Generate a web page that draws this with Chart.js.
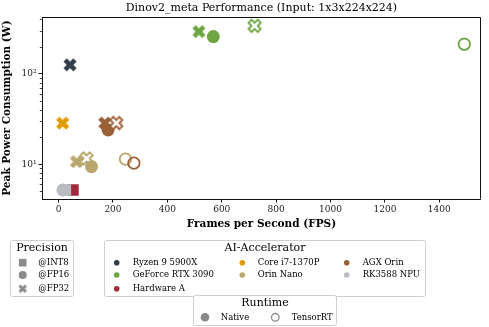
<!DOCTYPE html>
<html>
<head>
<meta charset="utf-8">
<title>Dinov2_meta Performance</title>
<script src="https://cdn.jsdelivr.net/npm/chart.js"></script>
<style>
  html, body { margin: 0; padding: 0; background: #fff; }
  canvas { display: block; }
</style>
</head>
<body>
<canvas id="perfChart" width="489" height="327"></canvas>
<script>
// legend categories
const accelerators = ['Ryzen 9 5900X', 'GeForce RTX 3090', 'Hardware A', 'Core i7-1370P', 'Orin Nano', 'AGX Orin', 'RK3588 NPU'];
const acceleratorColors = ['#323e4a', '#6fa644', '#a2283c', '#de9c00', '#b8a66c', '#9a6137', '#b9bcc1'];
const precisions = ['@INT8', '@FP16', '@FP32'];
const runtimes = ['Native', 'TensorRT'];

// one entry per measurement, drawn in this order (later on top)
const pointDevice = ['Hardware A', 'RK3588 NPU', 'RK3588 NPU', 'Ryzen 9 5900X',
  'GeForce RTX 3090', 'GeForce RTX 3090', 'GeForce RTX 3090', 'GeForce RTX 3090',
  'Core i7-1370P', 'Orin Nano', 'Orin Nano', 'Orin Nano', 'Orin Nano',
  'AGX Orin', 'AGX Orin', 'AGX Orin', 'AGX Orin'];
const pointPrecision = ['@INT8', '@INT8', '@FP16', '@FP32',
  '@FP32', '@FP16', '@FP32', '@FP16',
  '@FP32', '@FP32', '@FP32', '@FP16', '@FP16',
  '@FP32', '@FP16', '@FP32', '@FP16'];
const pointRuntime = ['Native', 'Native', 'Native', 'Native',
  'Native', 'Native', 'TensorRT', 'TensorRT',
  'Native', 'Native', 'TensorRT', 'Native', 'TensorRT',
  'Native', 'Native', 'TensorRT', 'TensorRT'];
const pointFps = [53, 25, 16, 42,
  516, 569, 721, 1492,
  15, 66, 103, 121, 246,
  170, 182, 212, 277];
const pointWatts = [5.2, 5.2, 5.2, 126,
  294, 259, 340, 213,
  28.5, 10.7, 11.6, 9.4, 11.4,
  28.6, 24.0, 28.6, 10.3];

// axes
const xTicks = [0, 200, 400, 600, 800, 1000, 1200, 1400];
const yTicks = [5, 6, 7, 8, 9, 10, 20, 30, 40, 50, 60, 70, 80, 90, 100, 200, 300, 400];
const yMajor = [10, 100];
const yMajorLabels = ['10¹', '10²'];

const SERIF = "'DejaVu Serif', serif";
const LEGEND_GREY = '#8a8a8a';

// matplotlib style filled "X" marker as a small canvas
function crossImage(color, hollow, size) {
  const dim = Math.ceil(size) + 6;
  const c = document.createElement('canvas');
  c.width = dim; c.height = dim;
  const g = c.getContext('2d');
  const pts = [[-1,-3],[1,-3],[1,-1],[3,-1],[3,1],[1,1],[1,3],[-1,3],[-1,1],[-3,1],[-3,-1],[-1,-1]];
  g.translate(dim / 2, dim / 2);
  g.rotate(Math.PI / 4);
  g.beginPath();
  pts.forEach(([px, py], i) => {
    const X = px / 6 * size, Y = py / 6 * size;
    if (i) g.lineTo(X, Y); else g.moveTo(X, Y);
  });
  g.closePath();
  if (hollow) {
    g.fillStyle = '#fff';
    g.fill();
    g.lineWidth = 1.8;
    g.strokeStyle = color;
    g.stroke();
  } else {
    g.fillStyle = color;
    g.fill();
  }
  return c;
}

function colorOf(device) {
  return acceleratorColors[accelerators.indexOf(device)];
}

const pointStyles = [], pointRadii = [], pointBg = [], pointBorder = [], pointBorderW = [];
pointDevice.forEach((dev, i) => {
  const col = colorOf(dev);
  const prec = pointPrecision[i];
  const trt = pointRuntime[i] === 'TensorRT';
  if (prec === '@FP32') {
    pointStyles.push(trt ? crossImage(col, true, 13) : crossImage(col, false, 14));
    pointRadii.push(7); pointBg.push(col); pointBorder.push(col); pointBorderW.push(0);
  } else if (prec === '@FP16') {
    pointStyles.push('circle');
    pointRadii.push(trt ? 5.7 : 6.5);
    pointBg.push(trt ? 'rgba(0,0,0,0)' : col);
    pointBorder.push(col);
    pointBorderW.push(trt ? 1.8 : 0);
  } else {
    pointStyles.push('rect');
    pointRadii.push(8.1); pointBg.push(col); pointBorder.push(col); pointBorderW.push(0);
  }
});

const points = pointFps.map((x, i) => ({ x: x, y: pointWatts[i] }));

// frame, minor ticks and the three legend boxes
const decorPlugin = {
  id: 'decor',
  afterDraw(chart) {
    const ctx = chart.ctx;
    const area = chart.chartArea;
    const yScale = chart.scales.y;
    ctx.save();

    // top + right spines
    const l = Math.round(area.left) + 0.5, r = Math.round(area.right) - 0.5;
    const t = Math.round(area.top) + 0.5, b = Math.round(area.bottom) - 0.5;
    ctx.strokeStyle = '#111';
    ctx.lineWidth = 1;
    ctx.beginPath();
    ctx.moveTo(l, b); ctx.lineTo(l, t); ctx.lineTo(r, t); ctx.lineTo(r, b);
    ctx.stroke();

    // minor ticks on the log axis
    ctx.lineWidth = 0.8;
    yTicks.forEach(v => {
      if (yMajor.includes(v)) return;
      const py = Math.round(yScale.getPixelForValue(v)) + 0.5;
      ctx.beginPath();
      ctx.moveTo(area.left, py);
      ctx.lineTo(area.left - 2.2, py);
      ctx.stroke();
    });

    function box(x, y, w, h) {
      ctx.fillStyle = '#fff';
      ctx.strokeStyle = '#cfcfcf';
      ctx.lineWidth = 1;
      ctx.beginPath();
      ctx.roundRect(x, y, w, h, 2);
      ctx.fill();
      ctx.stroke();
    }
    function title(text, x, y) {
      ctx.fillStyle = '#000';
      ctx.font = '11px ' + SERIF;
      ctx.textAlign = 'center';
      ctx.textBaseline = 'middle';
      ctx.fillText(text, x, y);
    }
    function label(text, x, y) {
      ctx.fillStyle = '#000';
      ctx.font = '8.5px ' + SERIF;
      ctx.textAlign = 'left';
      ctx.textBaseline = 'middle';
      ctx.fillText(text, x, y);
    }
    function dot(x, y, rad, fill, stroke, lw) {
      ctx.beginPath();
      ctx.arc(x, y, rad, 0, Math.PI * 2);
      if (fill) { ctx.fillStyle = fill; ctx.fill(); }
      if (stroke) { ctx.strokeStyle = stroke; ctx.lineWidth = lw; ctx.stroke(); }
    }

    const rows = [262.7, 275, 288.7];

    // Precision
    box(10.5, 240.5, 63, 56);
    title('Precision', 42, 248.5);
    ctx.fillStyle = LEGEND_GREY;
    ctx.fillRect(22.7 - 3.8, rows[0] - 3.8, 7.6, 7.6);
    dot(22.7, rows[1], 4, LEGEND_GREY);
    const grayCross = crossImage(LEGEND_GREY, false, 9);
    ctx.drawImage(grayCross, 22.7 - grayCross.width / 2, rows[2] - grayCross.height / 2);
    precisions.forEach((p, i) => label(p, 38.3, rows[i]));

    // AI-Accelerator: columns hold 3, 2 and 2 entries
    box(104.5, 240.5, 321, 56);
    title('AI-Accelerator', 265, 248.5);
    const colMarker = [116.7, 242.3, 346.7];
    const colText = [132.7, 257.7, 362.7];
    const slots = [[0, 0], [0, 1], [0, 2], [1, 0], [1, 1], [2, 0], [2, 1]];
    accelerators.forEach((name, i) => {
      const [col, row] = slots[i];
      dot(colMarker[col], rows[row], 2.8, acceleratorColors[i]);
      label(name, colText[col], rows[row]);
    });

    // Runtime
    box(193.5, 295.5, 143, 30);
    title('Runtime', 265, 303);
    dot(205, 317.3, 4.3, LEGEND_GREY);
    label(runtimes[0], 220.7, 317.3);
    dot(275.3, 317.3, 3.8, null, LEGEND_GREY, 1.3);
    label(runtimes[1], 291.7, 317.3);

    ctx.restore();
  }
};

new Chart(document.getElementById('perfChart'), {
  type: 'scatter',
  data: {
    datasets: [{
      label: 'Dinov2_meta',
      data: points,
      pointStyle: pointStyles,
      pointRadius: pointRadii,
      pointBackgroundColor: pointBg,
      pointBorderColor: pointBorder,
      pointBorderWidth: pointBorderW,
      showLine: false
    }]
  },
  options: {
    responsive: false,
    devicePixelRatio: 1,
    animation: false,
    events: [],
    layout: { padding: { left: 0, right: 5, top: 0, bottom: 95 } },
    plugins: {
      legend: { display: false },
      tooltip: { enabled: false },
      title: {
        display: true,
        fullSize: false,
        text: 'Dinov2_meta Performance (Input: 1x3x224x224)',
        color: '#000',
        font: { family: SERIF, size: 11, weight: 'normal' },
        padding: { top: 1.5, bottom: 2.5 }
      }
    },
    scales: {
      x: {
        type: 'linear',
        min: -61,
        max: 1553,
        afterFit(scale) { scale.height = 33; },
        afterBuildTicks(scale) { scale.ticks = xTicks.map(v => ({ value: v })); },
        ticks: {
          includeBounds: false,
          autoSkip: false,
          maxRotation: 0,
          padding: 2,
          color: '#222',
          font: { family: SERIF, size: 9 },
          callback: v => String(v)
        },
        grid: { drawOnChartArea: false, drawTicks: true, tickLength: 3.5, tickColor: '#111' },
        border: { display: true, color: '#111', width: 1 },
        title: {
          display: true,
          text: 'Frames per Second (FPS)',
          color: '#000',
          font: { family: SERIF, size: 10.5, weight: 'bold' },
          padding: { top: 0, bottom: 1 }
        }
      },
      y: {
        type: 'logarithmic',
        min: 4.13,
        max: 424,
        afterFit(scale) { scale.width = 42; },
        afterBuildTicks(scale) { scale.ticks = yTicks.map(v => ({ value: v, major: yMajor.includes(v) })); },
        ticks: {
          autoSkip: false,
          padding: 2,
          color: '#222',
          font: { family: SERIF, size: 9 },
          callback: v => {
            const k = yMajor.indexOf(v);
            return k >= 0 ? yMajorLabels[k] : '';
          }
        },
        grid: {
          drawOnChartArea: false,
          drawTicks: true,
          tickLength: 3.5,
          tickColor: c => (c.tick && yMajor.includes(c.tick.value)) ? '#111' : 'rgba(0,0,0,0)'
        },
        border: { display: true, color: '#111', width: 1 },
        title: {
          display: true,
          text: 'Peak Power Consumption (W)',
          color: '#000',
          font: { family: SERIF, size: 10.5, weight: 'bold' },
          padding: { top: 1, bottom: 0 }
        }
      }
    }
  },
  plugins: [decorPlugin]
});
</script>
</body>
</html>
